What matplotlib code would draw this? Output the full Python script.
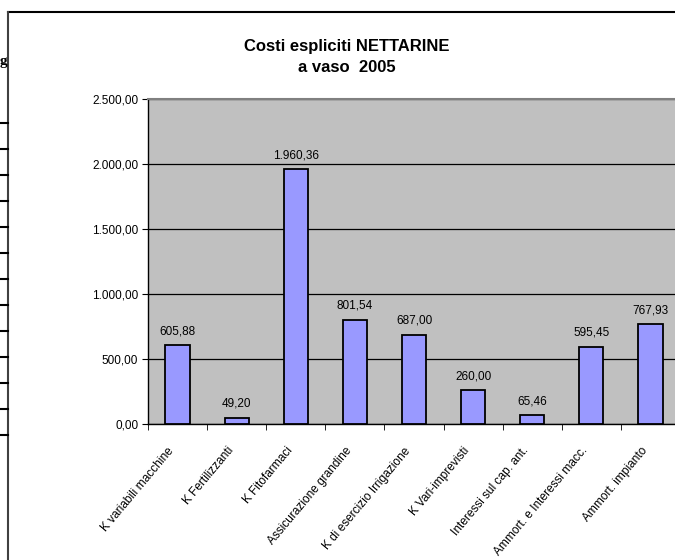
import matplotlib.pyplot as plt
import numpy as np
from matplotlib.lines import Line2D
from matplotlib.ticker import FuncFormatter, MultipleLocator

categorie = ["K variabili macchine", "K Fertilizzanti", "K Fitofarmaci",
             "Assicurazione grandine", "K di esercizio Irrigazione",
             "K Vari-imprevisti", "Interessi sul cap. ant.",
             "Ammort. e Interessi macc.", "Ammort. impianto"]
costi = [605.88, 49.20, 1960.36, 801.54, 687.00, 260.00, 65.46, 595.45, 767.93]


def formato_it(v):
    s = "{:,.2f}".format(v)
    return s.replace(",", "X").replace(".", ",").replace("X", ".")


plt.rcParams['font.family'] = ['Liberation Sans', 'DejaVu Sans']

fig = plt.figure(figsize=(6.75, 5.6), dpi=100)
W, H = 675, 560
ax = fig.add_axes([148 / W, (H - 424) / H, (680 - 148) / W, (424 - 99) / H])
ax.set_facecolor('#C0C0C0')

x = np.arange(len(costi))
ax.bar(x, costi, width=0.41, color='#9999FF', edgecolor='black', linewidth=1.3, zorder=3)
for xi, v in zip(x, costi):
    ax.text(xi, v + 60, formato_it(v), ha='center', va='bottom', fontsize=8.5, zorder=4)

ax.set_xlim(-0.5, len(costi) - 0.5)
ax.set_ylim(0, 2500)
ax.yaxis.set_major_locator(MultipleLocator(500))
ax.yaxis.set_major_formatter(FuncFormatter(lambda v, p: formato_it(v)))
ax.grid(axis='y', color='black', linewidth=0.9, zorder=1)

# etichette leggermente spostate a sinistra del centro della categoria
ax.set_xticks(x - 0.17)
ax.set_xticklabels(categorie, rotation=50, ha='right', va='top', rotation_mode='anchor',
                   fontsize=8.6)
ax.set_xticks(np.arange(-0.5, len(costi), 1), minor=True)
ax.tick_params(axis='x', which='major', length=0, pad=15)
ax.tick_params(axis='x', which='minor', length=4, direction='out')
ax.tick_params(axis='y', length=4, direction='out', labelsize=8.5, pad=3)

for s in ['top', 'right']:
    ax.spines[s].set_color('#808080')
    ax.spines[s].set_linewidth(1.5)
for s in ['left', 'bottom']:
    ax.spines[s].set_color('black')
    ax.spines[s].set_linewidth(1)

fig.text(347 / W, 1 - 46 / H, "Costi espliciti NETTARINE", ha='center', va='center',
         fontsize=12, fontweight='bold')
fig.text(347 / W, 1 - 68 / H, "a vaso  2005", ha='center', va='center',
         fontsize=12, fontweight='bold')

# cornice del grafico
fig.add_artist(Line2D([8 / W, 1], [1 - 12 / H, 1 - 12 / H], color='black', linewidth=1.5))
fig.add_artist(Line2D([8 / W, 8 / W], [1 - 12 / H, 0], color='#404040', linewidth=1.5))

# resti della tabella a sinistra
for yy in range(123, 436, 26):
    fig.add_artist(Line2D([0, 8 / W], [1 - yy / H, 1 - yy / H], color='black', linewidth=1.5))
fig.text(0, 1 - 62 / H, "g", ha='left', va='center', fontsize=11,
         family='Liberation Serif', fontweight='bold')

fig.savefig('out.png', dpi=100)
